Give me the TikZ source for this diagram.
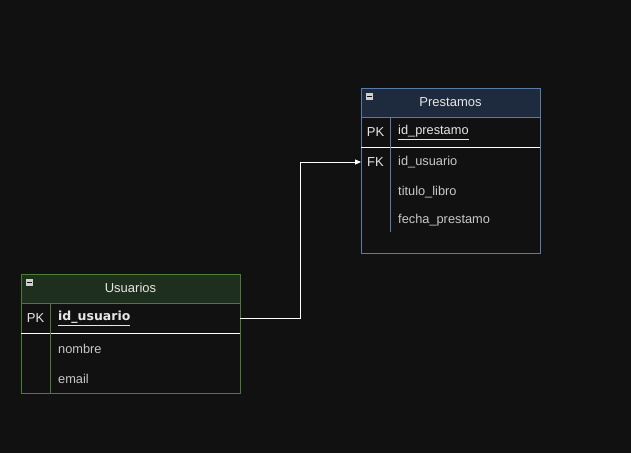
\documentclass[tikz,border=0pt]{standalone}
\usepackage{fontspec}
\setmainfont{Liberation Sans}
\newfontfamily\boldkeyfont{DejaVu Sans}
\usetikzlibrary{arrows.meta}
\definecolor{bg}{HTML}{111111}
\definecolor{bluehead}{HTML}{1E2A3E}
\definecolor{blueline}{HTML}{5A7BA6}
\definecolor{greenhead}{HTML}{1F2F1E}
\definecolor{greenline}{HTML}{4E7A38}
\definecolor{txt}{HTML}{E6E6E6}
\definecolor{rowtxt}{HTML}{C8C8C8}
\definecolor{iconfill}{HTML}{D0D0D0}
\tikzset{
  headtxt/.style={text=txt,font=\fontsize{13}{15}\selectfont,inner sep=0pt},
  keytxt/.style={text=txt,font=\fontsize{13}{15}\selectfont,inner sep=0pt},
  rowlabel/.style={text=rowtxt,font=\fontsize{12.8}{15}\selectfont,inner sep=0pt,anchor=west},
  conn/.style={draw=white,line width=0.9pt,-{Triangle[width=5pt,length=6pt]}},
  icon/.style={draw=none,fill=iconfill,minimum size=7pt,inner sep=0pt},
}
\begin{document}
\begin{tikzpicture}[x=1pt,y=-1pt]
\fill[bg] (0,0) rectangle (631,453);
\useasboundingbox (0,0) rectangle (631,453);

% ---------- Prestamos ----------
\fill[bg] (361,88) rectangle (540,253);
\fill[bluehead] (361,88) rectangle (540,117);
\draw[blueline,line width=0.8pt] (361,88) rectangle (540,253);
\draw[blueline,line width=0.8pt] (361,117) -- (540,117);
\draw[white,line width=0.9pt] (361,147) -- (540,147);
\draw[blueline,line width=0.8pt] (390,117) -- (390,232);
\node[icon] (pic) at (369.5,96.5) {};
\draw[bg,line width=1pt] (367,96.5) -- (372,96.5);
\node[headtxt] (ptitle) at (450.5,102) {Prestamos};
\node[keytxt] (ppk) at (375.5,132) {PK};
\node[rowlabel,text=txt] (pid) at (398,132.5) {\underline{id\_prestamo}};
\node[keytxt] (pfk) at (375.5,162) {FK};
\node[rowlabel] (pusr) at (398,162.5) {id\_usuario};
\node[rowlabel] (ptit) at (398,192.5) {titulo\_libro};
\node[rowlabel] (pfec) at (398,220.5) {fecha\_prestamo};
\coordinate (pin) at (361,162);

% ---------- Usuarios ----------
\fill[bg] (21,274) rectangle (240,393);
\fill[greenhead] (21,274) rectangle (240,303);
\draw[greenline,line width=0.8pt] (21,274) rectangle (240,393);
\draw[greenline,line width=0.8pt] (21,303) -- (240,303);
\draw[white,line width=0.9pt] (21,333) -- (240,333);
\draw[greenline,line width=0.8pt] (50,303) -- (50,393);
\node[icon] (uic) at (29.5,282.5) {};
\draw[bg,line width=1pt] (27,282.5) -- (32,282.5);
\node[headtxt] (utitle) at (130.5,288) {Usuarios};
\node[keytxt] (upk) at (35.5,318) {PK};
\node[rowlabel,text=txt,font=\boldkeyfont\fontsize{12.5}{15}\selectfont\bfseries] (uid) at (58,318.5) {\underline{id\_usuario}};
\node[rowlabel] (unom) at (58,348.5) {nombre};
\node[rowlabel] (uem) at (58,378.5) {email};
\coordinate (uout) at (240,318);

% ---------- connector ----------
\draw[conn] (uout) -- (300,318) -- (300,162) -- (pin);
\end{tikzpicture}
\end{document}
